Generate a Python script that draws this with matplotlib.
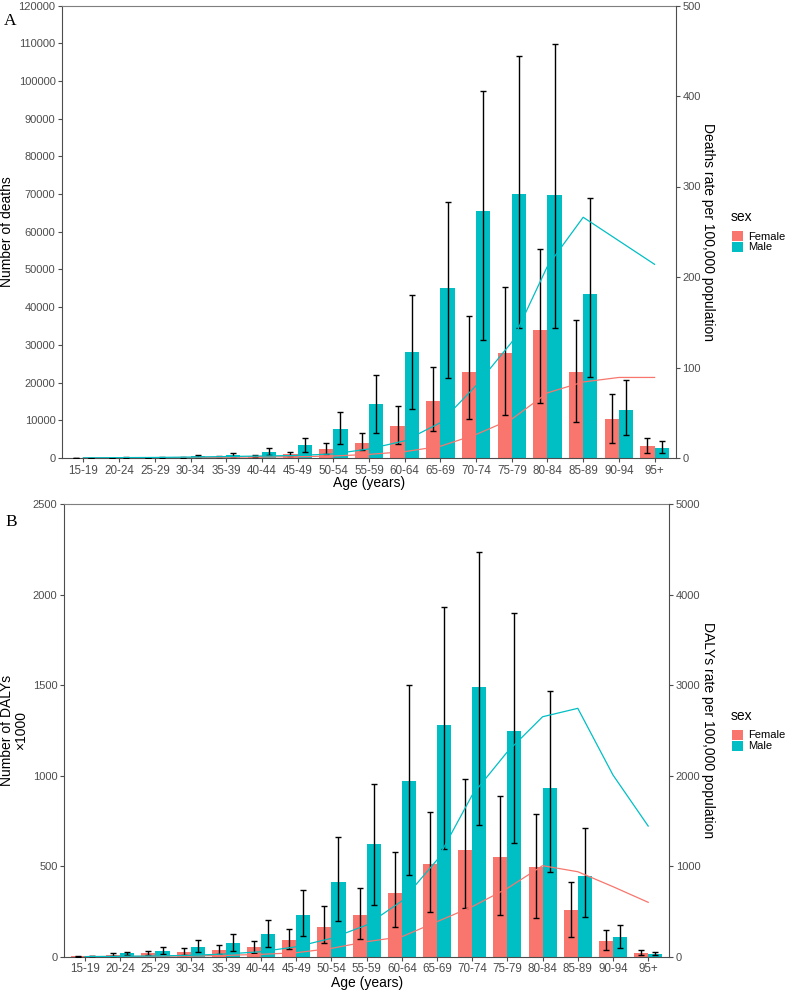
import numpy as np
import matplotlib
matplotlib.use("Agg")
import matplotlib.pyplot as plt
from matplotlib.patches import Patch
from matplotlib.ticker import FormatStrFormatter

plt.rcParams['font.family'] = ['Liberation Sans', 'DejaVu Sans']

ages = ['15-19', '20-24', '25-29', '30-34', '35-39', '40-44', '45-49', '50-54', '55-59',
        '60-64', '65-69', '70-74', '75-79', '80-84', '85-89', '90-94', '95+']

# Panel A: number of deaths (bars) and deaths rate per 100,000 (lines)
deaths_f = [20, 40, 70, 150, 300, 530, 1060, 2300, 4070, 8400, 15000, 22700, 27800, 34000, 22700, 10250, 3100]
deaths_f_lo = [5, 15, 30, 70, 150, 265, 530, 970, 2000, 3800, 7200, 10250, 11500, 14500, 9550, 4070, 1240]
deaths_f_hi = [40, 70, 130, 260, 450, 800, 1600, 3900, 6700, 13700, 24100, 37600, 45300, 55500, 36700, 16900, 5200]
deaths_m = [30, 80, 150, 440, 800, 1500, 3450, 7600, 14200, 28000, 45000, 65500, 70100, 69700, 43600, 12800, 2740]
deaths_m_lo = [10, 30, 60, 180, 350, 700, 1700, 3700, 6600, 13000, 21100, 31200, 34500, 34500, 21400, 6100, 1330]
deaths_m_hi = [60, 140, 260, 700, 1240, 2650, 5300, 12200, 22000, 43100, 67900, 97300, 106500, 109900, 68900, 20700, 4600]
death_rate_f = [0.1, 0.2, 0.3, 0.5, 0.8, 1.2, 1.4, 2.2, 4, 7, 13, 26, 43, 72, 84, 89, 89]
death_rate_m = [0.2, 0.4, 0.6, 1.0, 1.6, 2.2, 2.8, 4.5, 10, 19, 39, 80, 128, 212, 266, 240, 214]

# Panel B: number of DALYs x1000 (bars) and DALYs rate per 100,000 (lines)
dalys_f = [3, 9, 18, 28, 37, 53, 92, 166, 230, 352, 512, 588, 549, 495, 256, 88, 20]
dalys_f_lo = [1, 4, 7, 11, 15, 22, 41, 77, 99, 162, 249, 269, 230, 212, 110, 37, 9]
dalys_f_hi = [5, 18, 31, 50, 64, 88, 151, 278, 379, 577, 801, 980, 888, 790, 411, 146, 35]
dalys_m = [4, 18, 33, 55, 77, 125, 232, 413, 623, 971, 1280, 1488, 1245, 934, 448, 107, 17]
dalys_m_lo = [2, 7, 15, 28, 33, 52, 112, 199, 286, 449, 597, 728, 626, 470, 221, 50, 7]
dalys_m_hi = [6, 28, 52, 90, 127, 203, 370, 659, 954, 1503, 1934, 2234, 1901, 1466, 709, 173, 28]
daly_rate_f = [1, 2, 5, 8, 15, 26, 44, 92, 166, 221, 387, 553, 756, 1006, 939, 774, 601]
daly_rate_m = [1, 4, 8, 15, 30, 55, 110, 203, 350, 615, 1069, 1787, 2265, 2652, 2745, 2008, 1444]

FEMALE = '#F8766D'
MALE = '#00BFC4'
SPINE = '#4D4D4D'
TICKLAB = '#4D4D4D'

fig = plt.figure(figsize=(7.88, 9.92), dpi=100)


def panel(rect, f, flo, fhi, m, mlo, mhi, rf, rm, ymax, ystep, rmax, rstep,
          ylabel, rlabel, letter, lab_x, rlab_x, xlab_y, letter_xy, title_y, keys_y):
    ax = fig.add_axes(rect)
    x = np.arange(len(ages))
    w = 0.4
    f, flo, fhi = map(np.array, (f, flo, fhi))
    m, mlo, mhi = map(np.array, (m, mlo, mhi))
    ax.bar(x - w / 2, f, w, color=FEMALE, zorder=2)
    ax.bar(x + w / 2, m, w, color=MALE, zorder=2)
    ax.errorbar(x - w / 2, f, yerr=[f - flo, fhi - f], fmt='none', ecolor='black',
                elinewidth=1.0, capsize=2.3, capthick=1.0, zorder=3)
    ax.errorbar(x + w / 2, m, yerr=[m - mlo, mhi - m], fmt='none', ecolor='black',
                elinewidth=1.0, capsize=2.3, capthick=1.0, zorder=3)
    ax.set_xlim(-0.6, len(ages) - 0.4)
    ax.set_ylim(0, ymax)
    ax.set_yticks(np.arange(0, ymax + 1, ystep))
    ax.yaxis.set_major_formatter(FormatStrFormatter('%d'))
    ax.set_xticks(x)
    ax.set_xticklabels(ages)

    ax2 = ax.twinx()
    ax2.set_ylim(0, rmax)
    ax2.set_yticks(np.arange(0, rmax + 1, rstep))
    ax2.yaxis.set_major_formatter(FormatStrFormatter('%d'))
    ax2.plot(x, rf, color=FEMALE, lw=0.9, zorder=4)
    ax2.plot(x, rm, color=MALE, lw=0.9, zorder=4)

    for a in (ax, ax2):
        a.tick_params(axis='both', length=2.9, width=0.8, color=SPINE,
                      labelcolor=TICKLAB, labelsize=8, pad=1.8)
        for s in a.spines.values():
            s.set_color(SPINE)
            s.set_linewidth(0.8)
    ax.tick_params(axis='x', labelsize=8.4)
    ax.spines['right'].set_visible(False)
    for s in ('left', 'top', 'bottom'):
        ax2.spines[s].set_visible(False)
    ax.spines['top'].set_color('#7F7F7F')

    ax.set_ylabel(ylabel, fontsize=10, color='black', ha='center', va='center',
                  linespacing=1.0)
    ax.yaxis.set_label_coords(lab_x, 0.5)
    ax2.set_ylabel(rlabel, fontsize=10, color='black', rotation=270, ha='center', va='center')
    ax2.yaxis.set_label_coords(rlab_x, 0.5)
    ax.set_xlabel('Age (years)', fontsize=10, color='black', va='center')
    ax.xaxis.set_label_coords(0.5, xlab_y)

    ax.text(letter_xy[0], letter_xy[1], letter, transform=ax.transAxes, fontsize=12.5,
            family='Liberation Serif', ha='left', va='center')

    # legend: title as separate text to get ggplot-like spacing
    fig.text(731 / 788, 1 - title_y / 992, 'sex', fontsize=10, ha='left', va='center')
    handles = [Patch(facecolor=FEMALE, label='Female'), Patch(facecolor=MALE, label='Male')]
    fig.legend(handles=handles, loc='upper left',
               bbox_to_anchor=(726 / 788, 1 - keys_y / 992), frameon=False,
               fontsize=8, handlelength=1.05, handleheight=1.05,
               labelspacing=0.0, handletextpad=0.45, borderpad=0.0)
    return ax


panel([62 / 788, 1 - 458 / 992, 614 / 788, 452.5 / 992],
      deaths_f, deaths_f_lo, deaths_f_hi, deaths_m, deaths_m_lo, deaths_m_hi,
      death_rate_f, death_rate_m, 120000, 10000, 500, 100,
      'Number of deaths', 'Deaths rate per 100,000 population', 'A',
      -0.089, 1.052, -0.055, (-0.094, 0.966), 217, 225)

panel([64 / 788, 1 - 956.7 / 992, 605.3 / 788, 452.4 / 992],
      dalys_f, dalys_f_lo, dalys_f_hi, dalys_m, dalys_m_lo, dalys_m_hi,
      daly_rate_f, daly_rate_m, 2500, 500, 5000, 1000,
      'Number of DALYs\n\u00d71000', 'DALYs rate per 100,000 population', 'B',
      -0.083, 1.064, -0.059, (-0.096, 0.96), 716, 724)

fig.savefig('out.png', dpi=100)
